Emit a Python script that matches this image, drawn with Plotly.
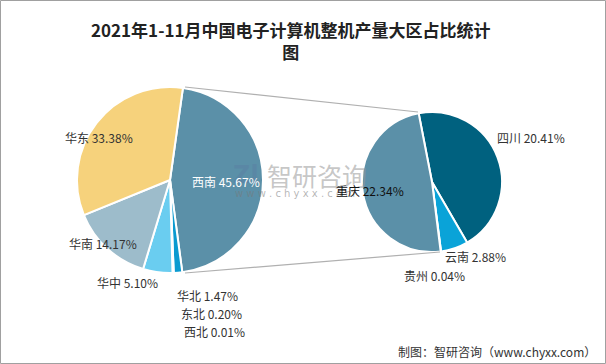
import plotly.graph_objects as go

# ---- data ----
region_labels = ["西南", "华北", "东北", "西北", "华中", "华南", "华东"]
region_values = [45.67, 1.47, 0.20, 0.01, 5.10, 14.17, 33.38]
region_colors = ["#5B90A8", "#0A9AD0", "#1E88C0", "#2a7fb0", "#6ACDF0", "#9DBCCB", "#F6D27C"]

sw_labels = ["四川", "云南", "贵州", "重庆"]
sw_values = [20.41, 2.88, 0.04, 22.34]
sw_colors = ["#00617F", "#0AA3D8", "#2aa0c0", "#5B90A8"]

title_text = "<b>2021年1-11月中国电子计算机整机产量大区占比统计<br>图</b>"
source_text = "制图：智研咨询（www.chyxx.com）"

W, H = 606, 364
FONT = "Noto Sans CJK SC"


def px_x(x):
    return x / W


def px_y(y):
    return 1 - y / H


fig = go.Figure()

# left pie: center (170,180), r 93
fig.add_trace(go.Pie(
    labels=region_labels, values=region_values, sort=False, direction="clockwise",
    rotation=8, textinfo="none", hoverinfo="label+percent",
    marker=dict(colors=region_colors, line=dict(color="white", width=2)),
    domain=dict(x=[px_x(77), px_x(263)], y=[px_y(273), px_y(87)]),
    showlegend=False,
))
# right pie: center (432,182), r 70
fig.add_trace(go.Pie(
    labels=sw_labels, values=sw_values, sort=False, direction="clockwise",
    rotation=-11, textinfo="none", hoverinfo="label+percent",
    marker=dict(colors=sw_colors, line=dict(color="white", width=2)),
    domain=dict(x=[px_x(362), px_x(502)], y=[px_y(252), px_y(112)]),
    showlegend=False,
))

shapes = [
    dict(type="line", xref="paper", yref="paper", x0=px_x(185), y0=px_y(87), x1=px_x(418), y1=px_y(112),
         line=dict(color="#B0B0B0", width=1.2)),
    dict(type="line", xref="paper", yref="paper", x0=px_x(185), y0=px_y(273), x1=px_x(440), y1=px_y(252),
         line=dict(color="#B0B0B0", width=1.2)),
    dict(type="rect", xref="paper", yref="paper", x0=px_x(0.5), y0=px_y(363.5), x1=px_x(605.5), y1=px_y(0.5),
         line=dict(color="#A0A0A0", width=1), layer="below"),
]

def lab(text, x, y, color="#333333", anchor="left", size=12):
    return dict(text=text, x=px_x(x), y=px_y(y), xref="paper", yref="paper", showarrow=False,
                xanchor=anchor, yanchor="middle", font=dict(family=FONT, size=size, color=color))

def fmt(name, v):
    return f"{name} {v:.2f}%"

rv = dict(zip(region_labels, region_values))
sv = dict(zip(sw_labels, sw_values))

annotations = [
    dict(text=title_text, x=px_x(291), y=px_y(40), xref="paper", yref="paper", showarrow=False,
         xanchor="center", yanchor="middle", font=dict(family=FONT, size=17, color="#222222"),
         align="center"),
    # watermark
    dict(text="<b>Zl</b>", x=px_x(246), y=px_y(175), xref="paper", yref="paper", showarrow=False,
         xanchor="center", yanchor="middle", font=dict(family="DejaVu Sans", size=24, color="rgba(90,120,160,0.35)")),
    dict(text="智研咨询", x=px_x(265), y=px_y(175), xref="paper", yref="paper", showarrow=False,
         xanchor="left", yanchor="middle", font=dict(family=FONT, size=25, color="rgba(150,150,150,0.55)")),
    dict(text="w w w . c h y x x . c o m", x=px_x(233), y=px_y(193), xref="paper", yref="paper", showarrow=False,
         xanchor="left", yanchor="middle", font=dict(family="DejaVu Sans", size=10, color="rgba(120,120,120,0.55)")),
    # left labels
    lab(fmt("华东", rv["华东"]), 63, 137),
    lab(fmt("西南", rv["西南"]), 190, 181, color="white"),
    lab(fmt("华南", rv["华南"]), 67, 244),
    lab(fmt("华中", rv["华中"]), 95, 282),
    lab(fmt("华北", rv["华北"]), 175, 295),
    lab(fmt("东北", rv["东北"]), 179, 313),
    lab(fmt("西北", rv["西北"]), 182, 331),
    # right labels
    lab(fmt("四川", sv["四川"]), 495, 137),
    lab(fmt("重庆", sv["重庆"]), 334, 190, color="#111111"),
    lab(fmt("云南", sv["云南"]), 443, 256),
    lab(fmt("贵州", sv["贵州"]), 402, 275),
    # source
    dict(text=source_text, x=px_x(598), y=px_y(351), xref="paper", yref="paper", showarrow=False,
         xanchor="right", yanchor="middle", font=dict(family=FONT, size=12, color="#333333")),
]

fig.update_layout(
    width=W, height=H, margin=dict(l=0, r=0, t=0, b=0),
    paper_bgcolor="white", plot_bgcolor="white",
    shapes=shapes, annotations=annotations,
)

fig.write_html(
    "out.html",
    config={"displayModeBar": False},
    post_script="document.body.style.margin='0';document.body.style.overflow='hidden';",
)
